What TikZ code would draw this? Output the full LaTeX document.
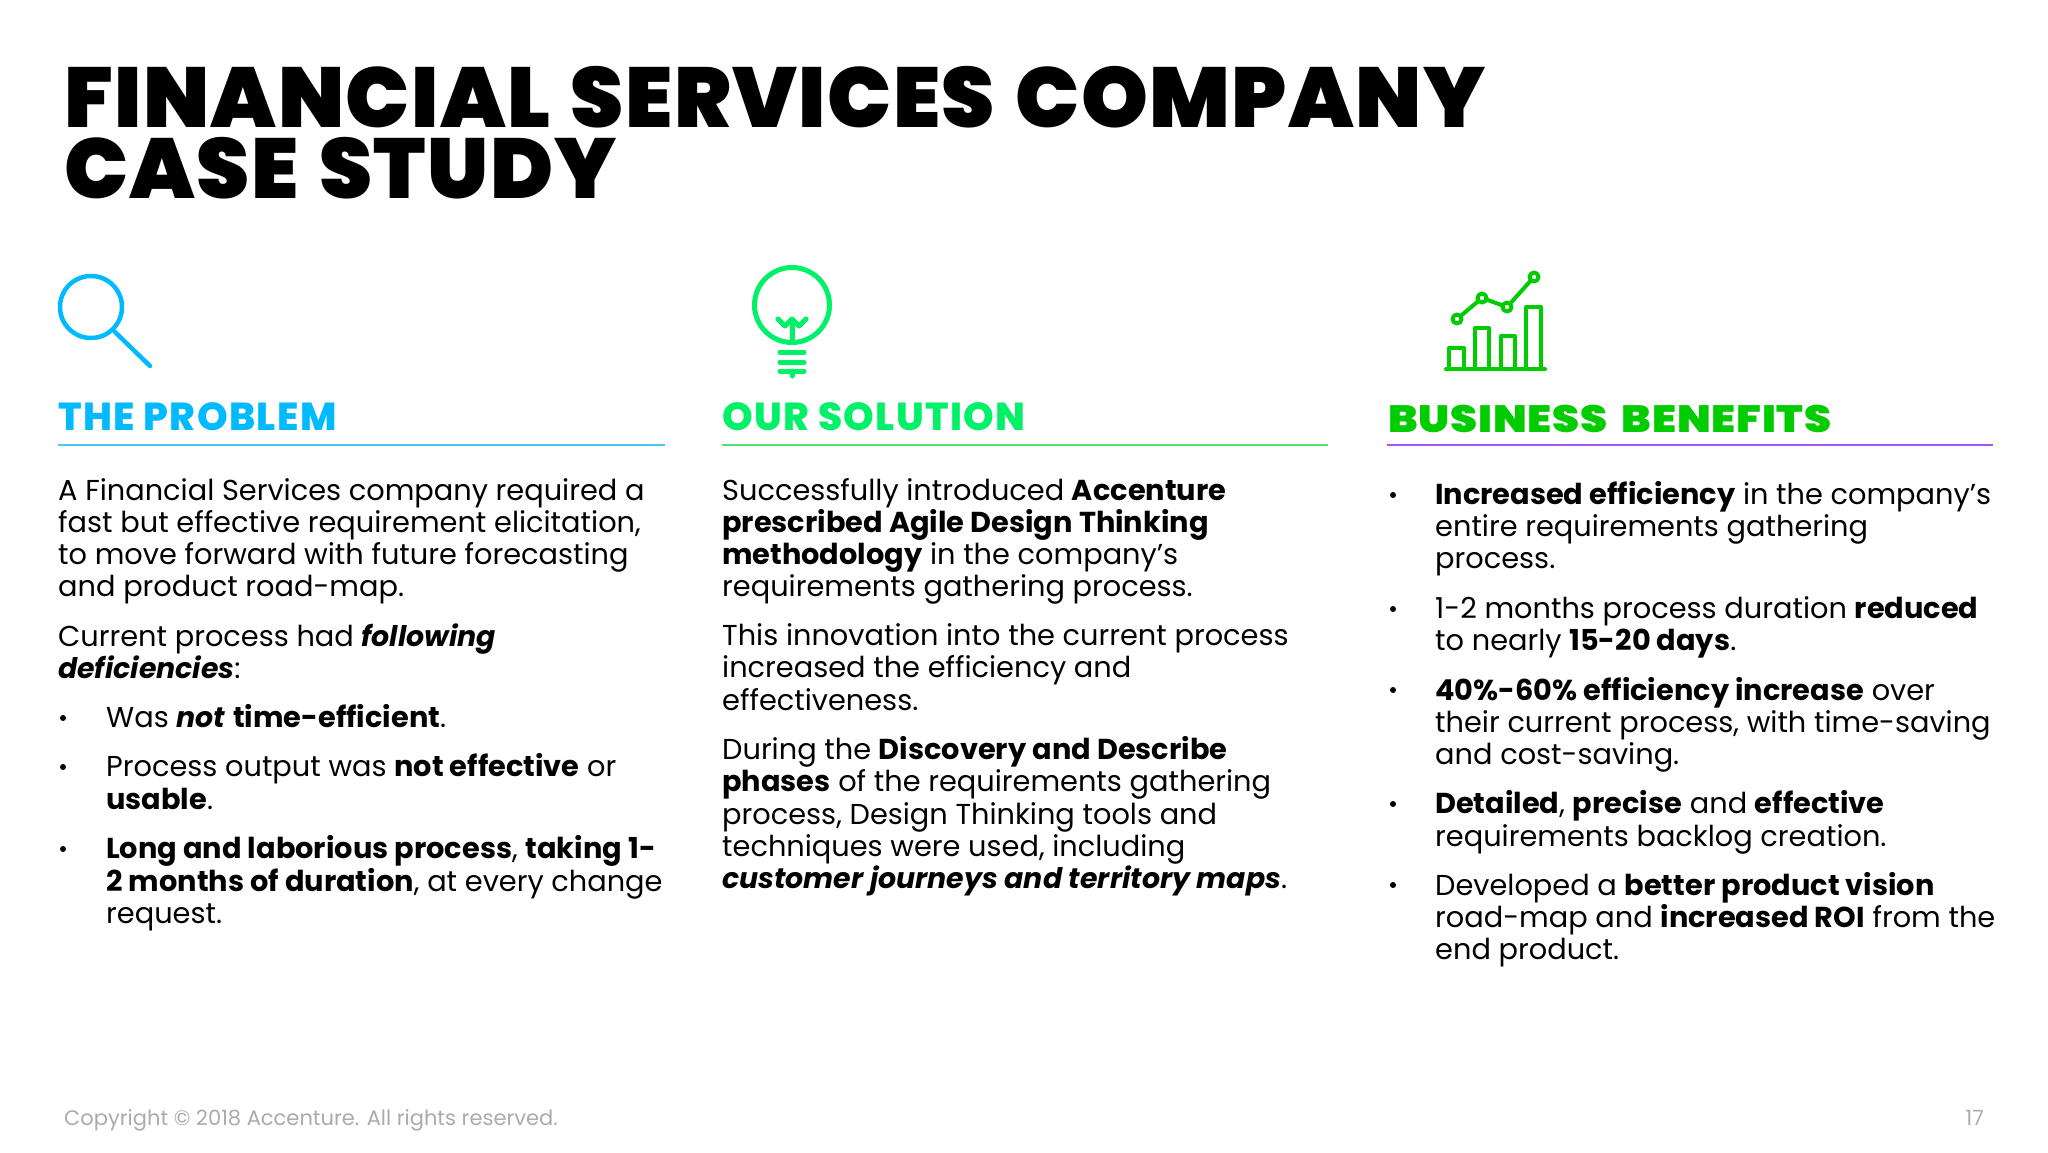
\documentclass[tikz,border=0pt]{standalone}
\usepackage{fontspec}
\setmainfont{Poppins}[BoldFont={Poppins Bold},ItalicFont={Poppins Italic},BoldItalicFont={Poppins Bold Italic},BoldItalicFeatures={Scale=0.985}]
\newfontfamily\blackf{Poppins Black}[LetterSpace=1.7,WordSpace=1.3]
\newfontfamily\heada{Poppins ExtraBold}[LetterSpace=3.6]
\newfontfamily\headb{Poppins Black}[FakeStretch=1.14,LetterSpace=2.0,WordSpace=1.8]
\definecolor{ablue}{HTML}{00BAFF}
\definecolor{amint}{HTML}{00F068}
\definecolor{agreen}{HTML}{00CC00}
\definecolor{apurple}{HTML}{A855F0}
\definecolor{rblue}{HTML}{50C4F5}
\definecolor{rgreen}{HTML}{55E070}
\definecolor{agray}{HTML}{ABABAB}
\newcounter{ln}
\newcommand{\tl}[3]{\stepcounter{ln}\node[bodyline] (line\theln) at (#1,#2) {#3};}
\tikzset{
 bodyline/.style={anchor=base west,inner sep=0pt,text=black,font=\fontsize{28.8}{32}\selectfont},
 titleline/.style={anchor=base west,inner sep=0pt,text=black,font=\blackf\fontsize{85}{85}\selectfont},
 headline/.style={anchor=base west,inner sep=0pt,font=\heada\fontsize{39}{40}\selectfont},
 bullet/.style={circle,fill=black,inner sep=0pt,minimum size=6pt},
 iconline/.style={line width=5pt,line cap=round,line join=round},
 footline/.style={inner sep=0pt,text=agray,font=\fontsize{21}{24}\selectfont},
}
\begin{document}
\begin{tikzpicture}[x=1pt,y=-1pt]
\useasboundingbox (0,0) rectangle (2048,1152);
\node[titleline] (t1) at (64,127) {FINANCIAL SERVICES COMPANY};
\node[titleline] (t2) at (64,198) {CASE STUDY};
% icons
\draw[iconline,ablue,line width=4.5pt] (91,307) circle (31);
\draw[iconline,ablue,line width=4.5pt] (115,332) -- (150,366);
\begin{scope}[iconline,amint]
\draw (792,305) circle (37.5);
\draw (792,340) -- (792,320);
\draw (778,319) -- (785,326) -- (792,319) -- (799,326) -- (806,319);
\draw (780,352) -- (804,352);
\draw (780,362) -- (804,362);
\draw (780,371) -- (804,371);
\draw (792,371) -- (792,376);
\end{scope}
\begin{scope}[iconline,agreen,line width=4pt]
\draw (1446,369) -- (1545,369);
\draw (1449,369) -- (1449,348) -- (1464,348) -- (1464,369);
\draw (1475,369) -- (1475,328) -- (1489,328) -- (1489,369);
\draw (1501,369) -- (1501,336) -- (1515,336) -- (1515,369);
\draw (1526,369) -- (1526,307) -- (1541,307) -- (1541,369);
\draw (1457,319) -- (1482,298) -- (1507,307) -- (1534,277);
\foreach \p in {(1457,319),(1482,298),(1507,307),(1534,277)} \filldraw[fill=white] \p circle (4.5);
\end{scope}
% headings
\node[headline,text=ablue] (h1) at (58,430) {THE PROBLEM};
\node[headline,text=amint] (h2) at (722,430) {OUR SOLUTION};
\node[headline,text=agreen,font=\headb\fontsize{38}{40}\selectfont] (h3) at (1388,432) {BUSINESS BENEFITS};
\draw[rblue,line width=1.5pt] (58,445) -- (665,445);
\draw[rgreen,line width=1.5pt] (722,445) -- (1328,445);
\draw[apurple,line width=1.5pt] (1387,445) -- (1993,445);
% column 1
\tl{58}{500}{A Financial Services company required a}
\tl{58}{532}{fast but effective requirement elicitation,}
\tl{58}{564}{to move forward with future forecasting}
\tl{58}{596}{and product road-map.}
\tl{58}{646}{Current process had \textbf{\textit{following}}}
\tl{58}{678}{\textbf{\textit{deficiencies}}:}
\node[bullet] (b1) at (63,718) {};
\tl{106}{727}{Was \textbf{\textit{not}} \textbf{time-efficient}.}
\node[bullet] (b2) at (63,767) {};
\tl{106}{776}{Process output was \textbf{not effective} or}
\tl{106}{809}{\textbf{usable}.}
\node[bullet] (b3) at (63,849) {};
\tl{106}{858}{\textbf{Long and laborious process}, \textbf{taking 1-}}
\tl{106}{891}{\textbf{2 months of duration}, at every change}
\tl{106}{923}{request.}
% column 2
\tl{722}{500}{Successfully introduced \textbf{Accenture}}
\tl{722}{532}{\textbf{prescribed Agile Design Thinking}}
\tl{722}{564}{\textbf{methodology} in the company’s}
\tl{722}{596}{requirements gathering process.}
\tl{722}{645}{This innovation into the current process}
\tl{722}{677}{increased the efficiency and}
\tl{722}{710}{effectiveness.}
\tl{722}{759}{During the \textbf{Discovery and Describe}}
\tl{722}{791}{\textbf{phases} of the requirements gathering}
\tl{722}{824}{process, Design Thinking tools and}
\tl{722}{856}{techniques were used, including}
\tl{722}{888}{\textbf{\textit{customer journeys and territory maps}}.}
% column 3
\node[bullet] (b4) at (1393,495) {};
\tl{1435}{504}{\textbf{Increased efficiency} in the company’s}
\tl{1435}{536}{entire requirements gathering}
\tl{1435}{568}{process.}
\node[bullet] (b5) at (1393,609) {};
\tl{1435}{618}{1-2 months process duration \textbf{reduced}}
\tl{1435}{650}{to nearly \textbf{15-20 days}.}
\node[bullet] (b6) at (1393,690) {};
\tl{1435}{700}{\textbf{40\%-60\% efficiency increase} over}
\tl{1435}{732}{their current process, with time-saving}
\tl{1435}{764}{and cost-saving.}
\node[bullet] (b7) at (1393,804) {};
\tl{1435}{813}{\textbf{Detailed}, \textbf{precise} and \textbf{effective}}
\tl{1435}{846}{requirements backlog creation.}
\node[bullet] (b8) at (1393,885) {};
\tl{1435}{895}{Developed a \textbf{better product vision}}
\tl{1435}{927}{road-map and \textbf{increased ROI} from the}
\tl{1435}{959}{end product.}
% footer
\node[footline,anchor=base west] (f1) at (64,1125) {Copyright © 2018 Accenture. All rights reserved.};
\node[footline,anchor=base east] (f2) at (1984,1125) {17};
\end{tikzpicture}
\end{document}
